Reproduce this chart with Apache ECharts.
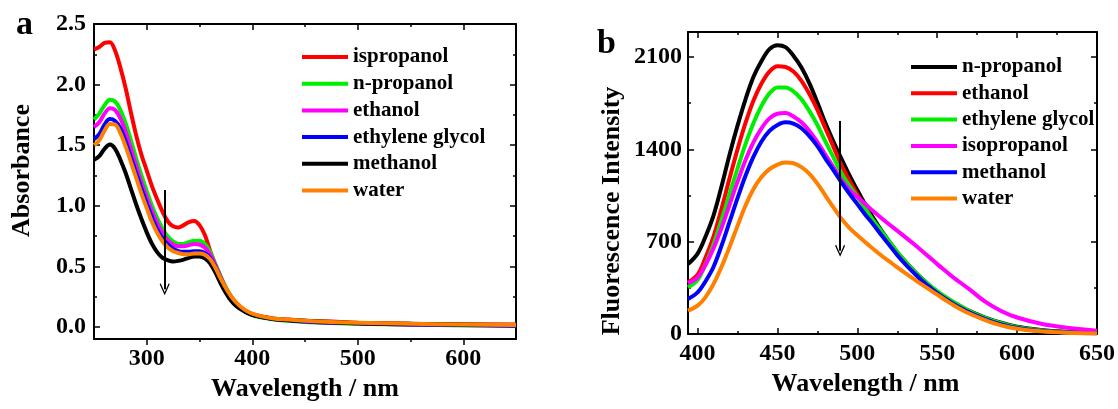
<!DOCTYPE html>
<html>
<head>
<meta charset="utf-8">
<script src="https://cdn.jsdelivr.net/npm/echarts@6/dist/echarts.min.js"></script>
<style>
html, body { margin: 0; padding: 0; background: #fff; }
#main { width: 1118px; height: 409px; }
</style>
</head>
<body>
<div id="main"></div>
<script>
// panel a - absorbance spectra
var absWl = [250, 255, 260, 265, 270, 275, 280, 285, 290, 295, 300, 305, 310, 315, 320, 325, 330, 335, 340, 345, 350, 355, 360, 365, 370, 375, 380, 385, 390, 395, 400, 410, 420, 435, 450, 475, 500, 550, 600, 650];
var absIsopropanol = [2.29, 2.31, 2.345, 2.35, 2.28, 2.14, 1.97, 1.77, 1.58, 1.42, 1.29, 1.16, 1.05, 0.95, 0.87, 0.83, 0.82, 0.84, 0.865, 0.875, 0.84, 0.76, 0.63, 0.51, 0.41, 0.32, 0.25, 0.195, 0.155, 0.125, 0.105, 0.085, 0.07, 0.06, 0.05, 0.045, 0.035, 0.025, 0.02, 0.02];
var absNPropanol = [1.71, 1.76, 1.83, 1.875, 1.86, 1.79, 1.68, 1.54, 1.39, 1.25, 1.12, 1.00, 0.895, 0.81, 0.745, 0.705, 0.685, 0.685, 0.70, 0.71, 0.71, 0.685, 0.62, 0.52, 0.42, 0.325, 0.25, 0.195, 0.15, 0.12, 0.095, 0.075, 0.06, 0.05, 0.04, 0.032, 0.025, 0.018, 0.012, 0.01];
var absEthanol = [1.65, 1.69, 1.76, 1.805, 1.79, 1.72, 1.61, 1.47, 1.33, 1.19, 1.07, 0.955, 0.855, 0.775, 0.715, 0.68, 0.665, 0.665, 0.675, 0.685, 0.68, 0.655, 0.60, 0.51, 0.41, 0.32, 0.245, 0.19, 0.15, 0.12, 0.10, 0.08, 0.065, 0.055, 0.045, 0.035, 0.03, 0.02, 0.015, 0.01];
var absGlycol = [1.55, 1.59, 1.67, 1.715, 1.70, 1.64, 1.53, 1.40, 1.27, 1.14, 1.02, 0.905, 0.805, 0.73, 0.68, 0.645, 0.625, 0.62, 0.62, 0.625, 0.625, 0.61, 0.57, 0.495, 0.40, 0.31, 0.24, 0.19, 0.15, 0.12, 0.10, 0.08, 0.065, 0.055, 0.045, 0.035, 0.03, 0.02, 0.015, 0.01];
var absMethanol = [1.38, 1.41, 1.47, 1.505, 1.47, 1.38, 1.27, 1.14, 1.01, 0.89, 0.78, 0.685, 0.615, 0.57, 0.55, 0.54, 0.545, 0.555, 0.57, 0.58, 0.58, 0.565, 0.525, 0.45, 0.36, 0.28, 0.215, 0.17, 0.14, 0.115, 0.10, 0.08, 0.065, 0.055, 0.05, 0.04, 0.03, 0.025, 0.02, 0.015];
var absWater = [1.50, 1.54, 1.62, 1.675, 1.67, 1.60, 1.49, 1.36, 1.23, 1.10, 0.98, 0.865, 0.775, 0.705, 0.655, 0.625, 0.61, 0.60, 0.60, 0.605, 0.605, 0.595, 0.56, 0.49, 0.40, 0.32, 0.25, 0.20, 0.16, 0.13, 0.11, 0.085, 0.07, 0.06, 0.05, 0.04, 0.035, 0.025, 0.02, 0.015];
var absXTicks = [300, 400, 500, 600];
var absXMinor = [350, 450, 550];
var absYTicks = [0, 0.5, 1.0, 1.5, 2.0, 2.5];
var absYMinor = [0.25, 0.75, 1.25, 1.75, 2.25];

// panel b - fluorescence spectra
var flWl = [394, 400, 405, 410, 415, 420, 425, 430, 435, 440, 445, 450, 455, 460, 465, 470, 475, 480, 485, 490, 495, 500, 505, 510, 515, 520, 525, 530, 535, 540, 545, 550, 555, 560, 570, 580, 590, 600, 615, 630, 650];
var flNPropanol = [530, 610, 740, 900, 1120, 1360, 1580, 1780, 1950, 2070, 2160, 2190, 2175, 2110, 2020, 1900, 1755, 1600, 1460, 1330, 1205, 1090, 980, 880, 785, 700, 620, 550, 485, 425, 370, 320, 278, 240, 175, 125, 85, 55, 30, 18, 12];
var flEthanol = [392, 450, 580, 740, 950, 1180, 1400, 1600, 1770, 1900, 1990, 2030, 2025, 1990, 1920, 1820, 1700, 1560, 1420, 1280, 1165, 1060, 955, 860, 770, 690, 612, 540, 472, 410, 357, 310, 268, 230, 165, 115, 75, 48, 25, 13, 7];
var flGlycol = [354, 410, 530, 680, 865, 1060, 1255, 1440, 1600, 1730, 1825, 1870, 1870, 1840, 1780, 1690, 1585, 1460, 1340, 1220, 1125, 1040, 950, 860, 780, 700, 622, 550, 485, 425, 372, 325, 283, 245, 175, 122, 82, 52, 27, 14, 7];
var flIsopropanol = [385, 430, 525, 650, 805, 980, 1155, 1320, 1455, 1560, 1635, 1670, 1675, 1650, 1605, 1540, 1455, 1360, 1265, 1170, 1095, 1040, 985, 930, 880, 830, 783, 735, 686, 635, 583, 530, 480, 430, 340, 245, 175, 125, 78, 50, 25];
var flMethanol = [265, 315, 400, 510, 670, 850, 1030, 1200, 1345, 1460, 1540, 1585, 1605, 1595, 1560, 1500, 1425, 1330, 1242, 1150, 1065, 985, 905, 830, 750, 675, 598, 530, 468, 410, 358, 310, 268, 230, 165, 112, 72, 45, 22, 11, 5];
var flWater = [177, 215, 280, 380, 510, 660, 820, 975, 1100, 1190, 1250, 1285, 1300, 1295, 1265, 1215, 1140, 1050, 960, 875, 805, 748, 695, 645, 595, 550, 505, 462, 420, 378, 338, 298, 258, 220, 155, 105, 65, 40, 20, 10, 5];
var flXTicks = [400, 450, 500, 550, 600, 650];
var flXMinor = [425, 475, 525, 575, 625];
var flYTicks = [0, 700, 1400, 2100];
var flYMinor = [350, 1050, 1750];

var FONT = '"Liberation Serif", "Times New Roman", serif';

function pairs(xs, ys) {
    var out = [];
    for (var i = 0; i < xs.length; i++) out.push([xs[i], ys[i]]);
    return out;
}

// one axis; major axes carry labels, minor ones only short ticks
function axis(grid, pos, min, max, ticks, opts) {
    opts = opts || {};
    return {
        type: 'value',
        gridIndex: grid,
        position: pos,
        min: min,
        max: max,
        splitLine: { show: false },
        axisLine: { show: !opts.noLine, onZero: false, lineStyle: { color: '#000', width: 2 } },
        axisTick: {
            show: true, inside: !opts.outside, length: opts.minor ? 3 : 6,
            customValues: ticks,
            lineStyle: { color: '#000', width: 1.5 }
        },
        axisLabel: {
            show: !!opts.labels,
            customValues: ticks,
            margin: opts.margin || 8,
            formatter: opts.formatter || function (v) { return String(v); },
            color: '#000', fontFamily: FONT, fontWeight: 'bold', fontSize: 24
        },
        name: opts.name,
        nameLocation: 'middle',
        nameGap: opts.nameGap,
        nameTextStyle: { color: '#000', fontFamily: FONT, fontWeight: 'bold', fontSize: 26, padding: opts.namePad || 0 }
    };
}

var myChart = echarts.init(document.getElementById('main'), null, { renderer: 'canvas' });

var absColors = ['#ff0000', '#00ee00', '#ff00ff', '#0000ff', '#000000', '#ff8000'];
var absNames = ['ispropanol', 'n-propanol', 'ethanol', 'ethylene glycol', 'methanol', 'water'];
var absSets = [absIsopropanol, absNPropanol, absEthanol, absGlycol, absMethanol, absWater];

var flColors = ['#000000', '#ff0000', '#00ee00', '#ff00ff', '#0000ff', '#ff8000'];
var flNames = ['n-propanol', 'ethanol', 'ethylene glycol', 'isopropanol', 'methanol', 'water'];
var flSets = [flNPropanol, flEthanol, flGlycol, flIsopropanol, flMethanol, flWater];

var arrowHead = 'path://M5,0 L10,11 L9,12 L5,3 L1,12 L0,11 Z';

var series = [];
absSets.forEach(function (d, i) {
    series.push({
        name: absNames[i], type: 'line', xAxisIndex: 0, yAxisIndex: 0,
        data: pairs(absWl, d), smooth: 0.35, showSymbol: false,
        lineStyle: { color: absColors[i], width: 4 }, itemStyle: { color: absColors[i] }
    });
});
flSets.forEach(function (d, i) {
    series.push({
        name: flNames[i] + '\u200b', type: 'line', xAxisIndex: 4, yAxisIndex: 4,
        data: pairs(flWl, d), smooth: 0.35, showSymbol: false,
        lineStyle: { color: flColors[i], width: 4 }, itemStyle: { color: flColors[i] }
    });
});
// the two arrows
series[0].markLine = {
    silent: true, symbol: ['none', arrowHead], symbolSize: [10, 12],
    label: { show: false }, lineStyle: { color: '#000', width: 2, type: 'solid' },
    data: [[{ coord: [317, 1.13] }, { coord: [317, 0.31] }]]
};
series[6].markLine = {
    silent: true, symbol: ['none', arrowHead], symbolSize: [10, 12],
    label: { show: false }, lineStyle: { color: '#000', width: 2, type: 'solid' },
    data: [[{ coord: [489.2, 1616] }, { coord: [489.2, 631] }]]
};

function legendData(names, colors) {
    return names.map(function (n, i) { return { name: n, itemStyle: { color: colors[i] } }; });
}

var legendBase = {
    orient: 'vertical', icon: 'rect', itemWidth: 46, itemHeight: 4, padding: 0,
    textStyle: { color: '#000', fontFamily: FONT, fontWeight: 'bold', fontSize: 21, lineHeight: 22 },
    selectedMode: false
};

var option = {
    animation: false,
    backgroundColor: '#fff',
    graphic: [
        { type: 'text', left: 16, top: 8, style: { text: 'a', font: 'bold 34px ' + FONT, fill: '#000' } },
        { type: 'text', left: 597, top: 27, style: { text: 'b', font: 'bold 34px ' + FONT, fill: '#000' } }
    ],
    grid: [
        { left: 94, top: 24, width: 422, height: 315 },
        { left: 688, top: 32, width: 409, height: 302 }
    ],
    legend: [
        Object.assign({ left: 302, top: 46, itemGap: 4.7, data: legendData(absNames, absColors) }, legendBase),
        Object.assign({ left: 911, top: 56, itemGap: 4.3, data: legendData(flNames.map(function (n) { return n + '\u200b'; }), flColors) }, legendBase)
    ],
    xAxis: [
        axis(0, 'bottom', 250, 650, absXTicks, { labels: true, outside: true, margin: 8, name: 'Wavelength / nm', nameGap: 36 }),
        axis(0, 'bottom', 250, 650, absXMinor, { minor: true, outside: true, noLine: true }),
        axis(0, 'top', 250, 650, absXTicks, {}),
        axis(0, 'top', 250, 650, absXMinor, { minor: true, noLine: true }),
        axis(1, 'bottom', 394, 650, flXTicks, { labels: true, margin: 8, name: 'Wavelength / nm', nameGap: 36, namePad: [0, 54, 0, 0] }),
        axis(1, 'bottom', 394, 650, flXMinor, { minor: true, noLine: true }),
        axis(1, 'top', 394, 650, flXTicks, {}),
        axis(1, 'top', 394, 650, flXMinor, { minor: true, noLine: true })
    ],
    yAxis: [
        axis(0, 'left', -0.1, 2.5, absYTicks, { labels: true, margin: 8, name: 'Absorbance', nameGap: 59, namePad: [0, 0, 0, 22],
            formatter: function (v) { return v.toFixed(1); } }),
        axis(0, 'left', -0.1, 2.5, absYMinor, { minor: true, noLine: true }),
        axis(0, 'right', -0.1, 2.5, absYTicks, {}),
        axis(0, 'right', -0.1, 2.5, absYMinor, { minor: true, noLine: true }),
        axis(1, 'left', 0, 2290, flYTicks, { labels: true, margin: 6, name: 'Fluorescence Intensity', nameGap: 63, namePad: [0, 56, 0, 0] }),
        axis(1, 'left', 0, 2290, flYMinor, { minor: true, noLine: true }),
        axis(1, 'right', 0, 2290, flYTicks, {}),
        axis(1, 'right', 0, 2290, flYMinor, { minor: true, noLine: true })
    ],
    series: series
};

myChart.setOption(option);
</script>
</body>
</html>
